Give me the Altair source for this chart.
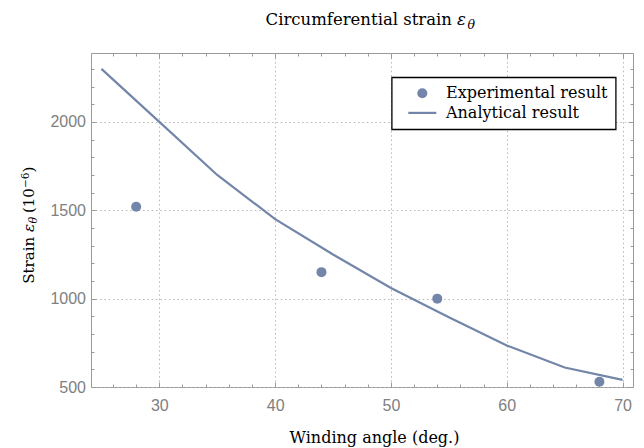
import altair as alt
import pandas as pd

# ---------------- data ----------------
exp_angle = [28, 44, 54, 68]
exp_strain = [1520, 1150, 1000, 530]
ana_angle = [25, 30, 35, 40, 45, 50, 55, 60, 65, 70]
ana_strain = [2300, 2000, 1700, 1450, 1250, 1060, 895, 735, 610, 540]
series_names = ["Experimental result", "Analytical result"]

x_major = [30, 40, 50, 60, 70]
x_minor = [26, 28, 32, 34, 36, 38, 42, 44, 46, 48, 52, 54, 56, 58, 62, 64, 66, 68]
y_major = [500, 1000, 1500, 2000]
y_minor = [600, 700, 800, 900, 1100, 1200, 1300, 1400, 1600, 1700, 1800, 1900,
           2100, 2200, 2300]

# ---------------- style ----------------
COLOR = "#7385a8"
FRAME = "#9a9a9a"
LABEL = "#808080"
GRID = "#b8b8b8"
SERIF = "DejaVu Serif"
SANS = "Liberation Sans"
W, H = 542, 334

xscale = alt.Scale(domain=[24.1, 70.9], nice=False, zero=False)
yscale = alt.Scale(domain=[500, 2390], nice=False, zero=False)

exp_df = pd.DataFrame({"angle": exp_angle, "strain": exp_strain,
                       "series": [series_names[0]] * len(exp_angle)})
ana_df = pd.DataFrame({"angle": ana_angle, "strain": ana_strain})


def tick_axis(orient, values, size, offset):
    return alt.Axis(orient=orient, values=values, tickSize=size, offset=offset,
                    labels=False, domain=False, grid=False, title=None,
                    ticks=True, tickColor=FRAME, tickWidth=1)


main_x = alt.Axis(orient="bottom", values=x_major, grid=True, ticks=False, tickSize=0,
                  domain=False, labelFont=SANS, labelFontSize=16, labelColor=LABEL,
                  labelPadding=10, format="d", labelFlush=False,
                  gridColor=GRID, gridDash=[1.5, 2.8], gridWidth=1,
                  title="Winding angle (deg.)", titleFont=SERIF, titleFontSize=16,
                  titleFontWeight="normal", titleColor="black", titleX=283, titleY=55,
                  titleBaseline="alphabetic", titleAlign="center")
main_y = alt.Axis(orient="left", values=y_major, grid=True, ticks=False, tickSize=0,
                  domain=False, labelFont=SANS, labelFontSize=16, labelColor=LABEL,
                  labelPadding=5.5, format="d", labelFlush=False,
                  gridColor=GRID, gridDash=[1.5, 2.8], gridWidth=1, title=None)

legend = alt.Legend(orient="none", legendX=300.7, legendY=24.3, title=None,
                    strokeColor="black", fillColor="white",
                    padding=8, cornerRadius=0, labelLimit=400,
                    labelFont=SERIF, labelFontSize=16, labelColor="black",
                    symbolSize=100, symbolStrokeWidth=0,
                    symbolFillColor=COLOR, symbolOpacity=1,
                    symbolOffset=14.6, labelOffset=15.7, rowPadding=3.6)

points = alt.Chart(exp_df).mark_point(filled=True, opacity=1, size=100, color=COLOR).encode(
    x=alt.X("angle:Q", scale=xscale, axis=main_x),
    y=alt.Y("strain:Q", scale=yscale, axis=main_y),
    shape=alt.Shape("series:N",
                    scale=alt.Scale(domain=series_names,
                                    range=["circle", "M-2.8,-0.22H2.8V0.22H-2.8Z"]),
                    legend=legend),
)

line = alt.Chart(ana_df).mark_line(color=COLOR, strokeWidth=2.2).encode(
    x=alt.X("angle:Q", scale=xscale, axis=tick_axis("top", x_major, 5, -H)),
    y=alt.Y("strain:Q", scale=yscale, axis=tick_axis("right", y_major, 5, -W)),
)


def ghost(xax, yax):
    return alt.Chart(ana_df).mark_line(strokeOpacity=0).encode(
        x=alt.X("angle:Q", scale=xscale, axis=xax),
        y=alt.Y("strain:Q", scale=yscale, axis=yax),
    )


g1 = ghost(tick_axis("top", x_minor, 3, -H), tick_axis("right", y_minor, 3, -W))
g2 = ghost(tick_axis("bottom", x_major, 5, -H), tick_axis("left", y_major, 5, -W))
g3 = ghost(tick_axis("bottom", x_minor, 3, -H), tick_axis("left", y_minor, 3, -W))

anno = pd.DataFrame({"k": [0]})


def txt(text, x, y, size=16, style="normal", align="left", angle=0):
    return alt.Chart(anno).mark_text(
        text=text, align=align, baseline="alphabetic", font=SERIF, fontSize=size,
        fontStyle=style, angle=angle, color="black"
    ).encode(x=alt.value(x), y=alt.value(y))


texts = [
    # chart title
    txt("Circumferential strain", 361, -28, size=16.5, align="right"),
    txt("ε", 366, -28, size=16.5, style="italic"),
    txt("θ", 376.5, -24.5, size=12.5, style="italic"),
    # y axis title (rotated)
    txt("Strain", -57, 183.9, size=15, align="right", angle=270),
    txt("ε", -57, 179.1, size=15, style="italic", angle=270),
    txt("θ", -54, 170.6, size=11, style="italic", angle=270),
    txt("(10", -57, 160.1, size=15, angle=270),
    txt("−6", -62.5, 135.1, size=10.5, angle=270),
    txt(")", -57, 119.6, size=15, angle=270),
]

chart = alt.layer(g1, g2, g3, line, points, *texts).resolve_axis(
    x="independent", y="independent"
).properties(
    width=W, height=H,
    autosize=alt.AutoSizeParams(type="none"),
    padding={"left": 91, "top": 53, "right": 11, "bottom": 61},
    background="white",
).configure_view(stroke=FRAME, strokeWidth=1).configure_legend(strokeWidth=1.3)

chart.save("out.html", embed_options={"renderer": "svg", "actions": False})
